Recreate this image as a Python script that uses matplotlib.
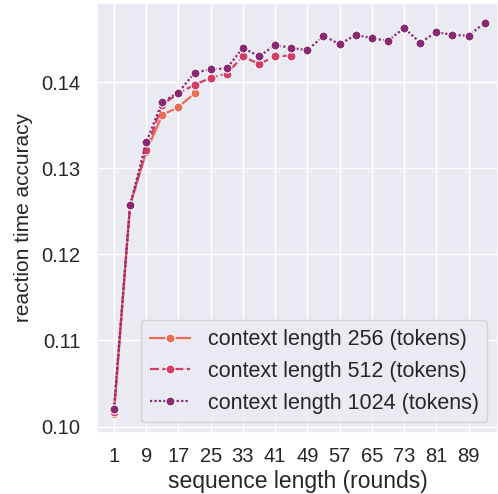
import matplotlib
matplotlib.use("Agg")
import matplotlib.pyplot as plt
import seaborn as sns
import numpy as np

# sequence length in rounds, one point every 4 rounds
rounds_1024 = list(range(1, 94, 4))
rounds_512 = list(range(1, 46, 4))
rounds_256 = list(range(1, 22, 4))

acc_256 = [0.1015, 0.1257, 0.1319, 0.1362, 0.1371, 0.1387]
acc_512 = [0.1017, 0.1257, 0.1321, 0.1374, 0.1387, 0.1397,
           0.1405, 0.1410, 0.1430, 0.1421, 0.1430, 0.1431]
acc_1024 = [0.1020, 0.1257, 0.1330, 0.1377, 0.1388, 0.1411,
            0.1415, 0.1416, 0.1440, 0.1430, 0.1443, 0.1440,
            0.1437, 0.1454, 0.1444, 0.1455, 0.1451, 0.1448,
            0.1463, 0.1446, 0.1458, 0.1455, 0.1454, 0.1469]

labels = ["context length 256 (tokens)",
          "context length 512 (tokens)",
          "context length 1024 (tokens)"]
xticks = list(range(1, 90, 8))
yticks = [0.10, 0.11, 0.12, 0.13, 0.14]

sns.set_theme(style="darkgrid")
plt.rcParams["font.family"] = ["Liberation Sans", "DejaVu Sans"]

colors = ["#ec6b55", "#d33e66", "#8a2871"]
styles = ["-", (0, (4, 1.5)), (0, (1, 1))]

fig = plt.figure(figsize=(4.98, 4.94), dpi=100)
ax = fig.add_axes([97 / 498, 61 / 494, 401 / 498, 430 / 494])

series = [(rounds_256, acc_256), (rounds_512, acc_512), (rounds_1024, acc_1024)]
for (x, y), c, ls, lab in zip(series, colors, styles, labels):
    ax.plot(x, y, color=c, linestyle=ls, linewidth=1.6, marker="o",
            markersize=6.5, markeredgecolor="white", markeredgewidth=0.8,
            label=lab)

ax.set_xlim(-3.2, 96.3)
ax.set_ylim(0.09925, 0.1492)
ax.set_xticks(xticks)
ax.set_yticks(yticks)
ax.set_yticklabels(["%.2f" % v for v in yticks])
ax.tick_params(axis="x", labelsize=14.5, pad=4, colors="#262626")
ax.tick_params(axis="y", labelsize=14.5, pad=6, colors="#262626")
ax.set_xlabel("sequence length (rounds)", fontsize=16.5, color="#262626", labelpad=3)
ax.set_ylabel("reaction time accuracy", fontsize=15, color="#262626", labelpad=6)

ax.legend(loc="lower right", fontsize=15.5, borderaxespad=0.5,
          handlelength=1.9, labelspacing=0.5)

fig.savefig("out.png", dpi=100)
